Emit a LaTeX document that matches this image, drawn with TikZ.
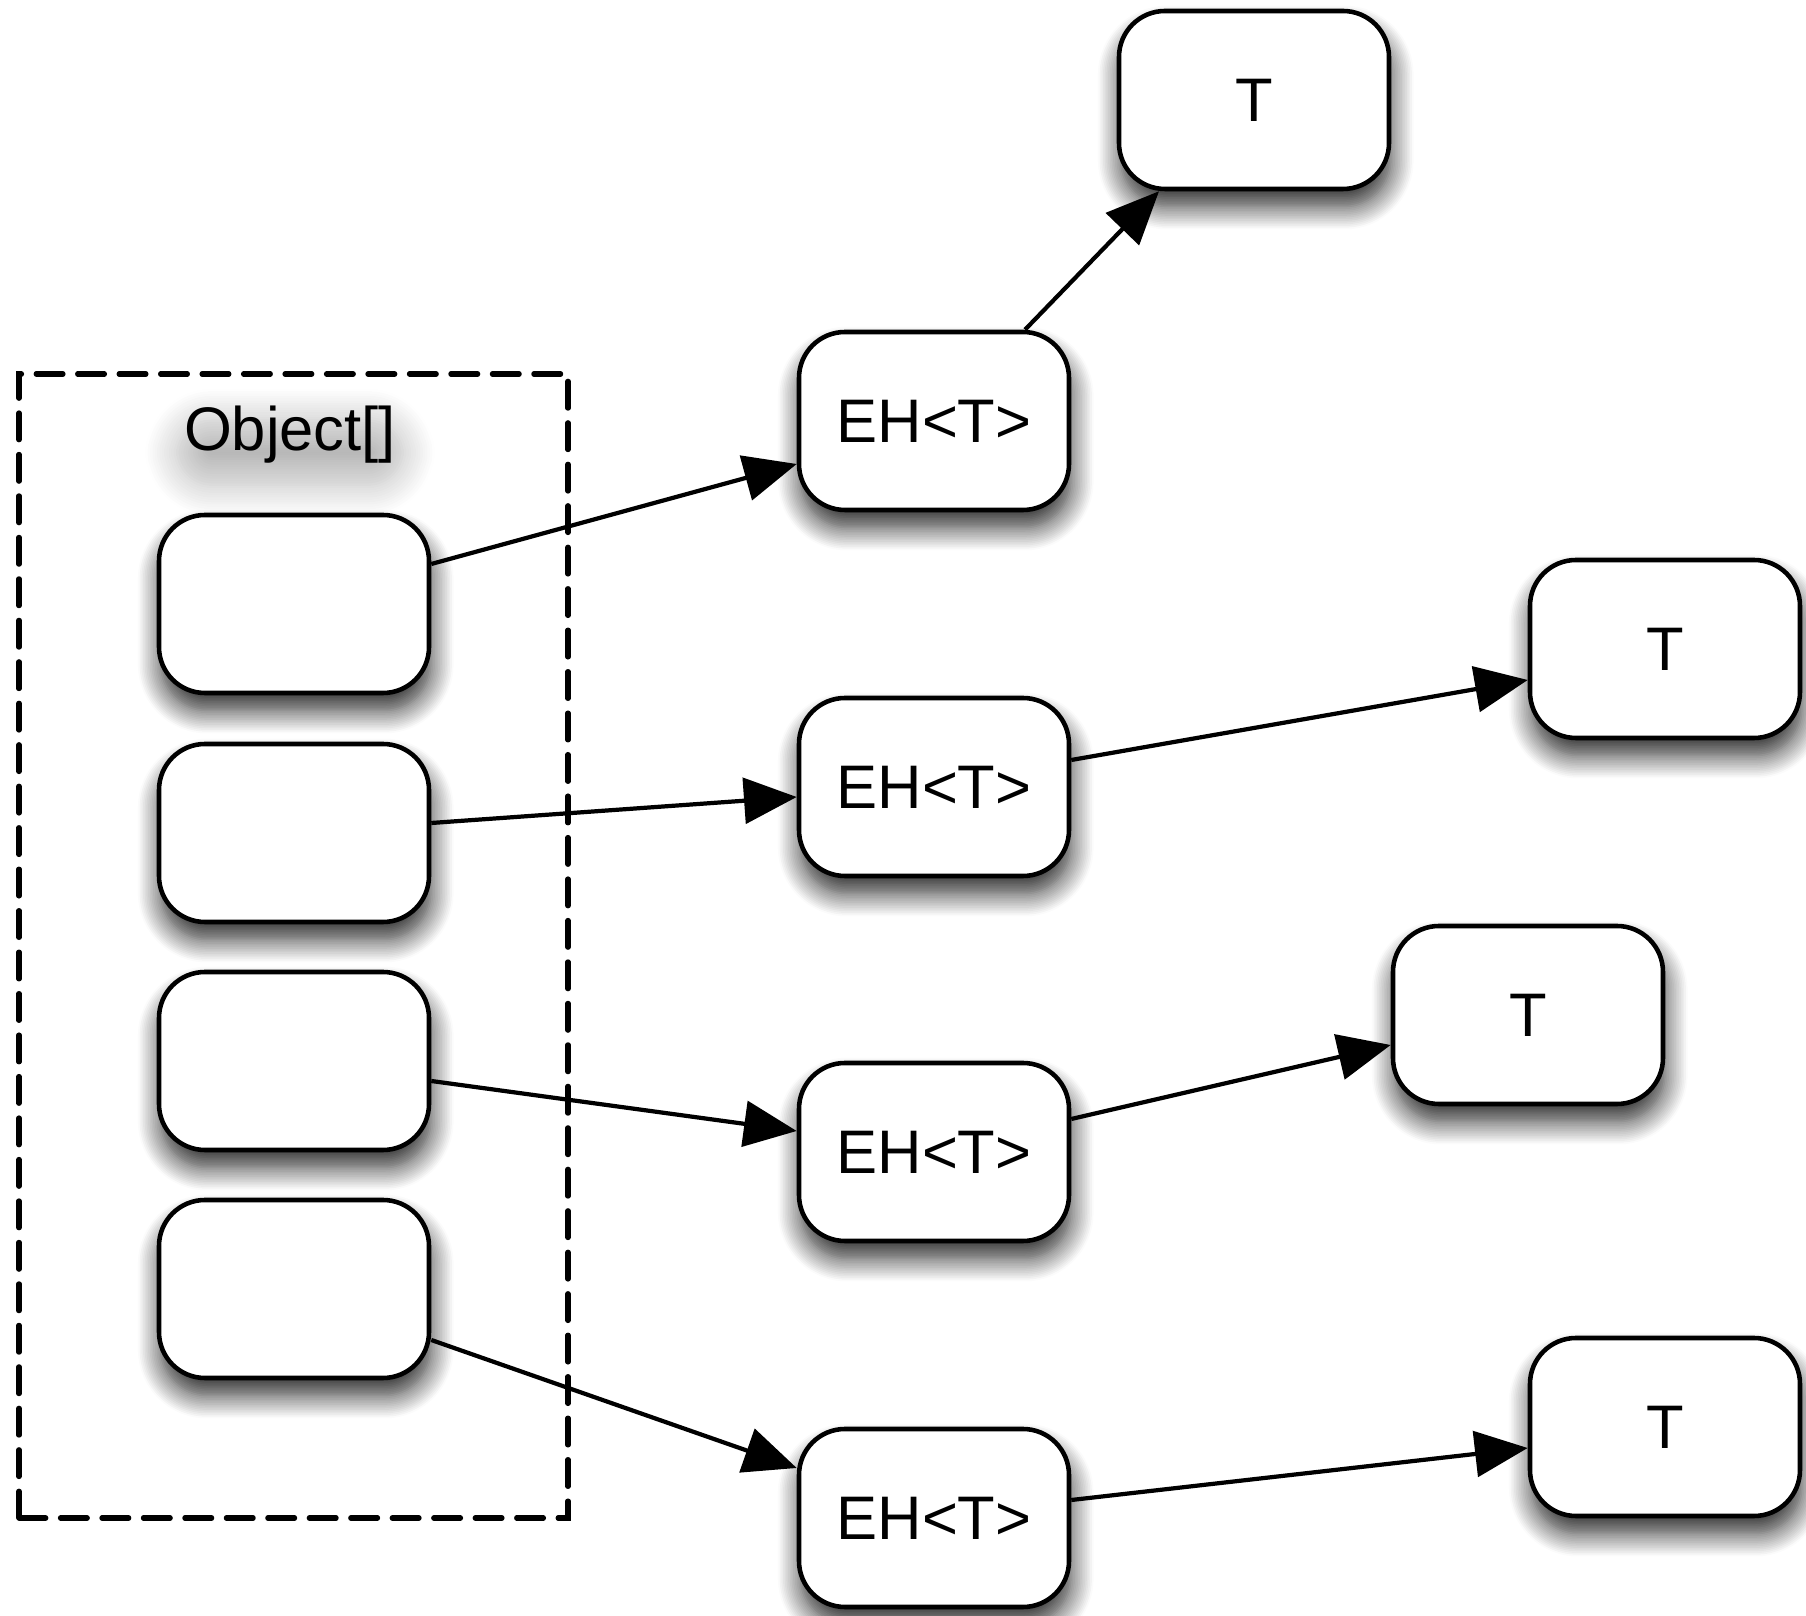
\documentclass[tikz,border=0pt]{standalone}
\usepackage{fontspec}
\setmainfont{Liberation Sans}
\usetikzlibrary{arrows.meta,shadows.blur}

\begin{document}
\begin{tikzpicture}[
  box/.style={draw, line width=1.3pt, fill=white, rounded corners=0.46cm,
    minimum width=2.7cm, minimum height=1.78cm, font=\fontsize{17.5}{20}\selectfont,
    blur shadow={shadow xshift=0.5pt, shadow yshift=-5pt, shadow blur radius=6.5pt,
      shadow blur steps=14, shadow opacity=85}},
  link/.style={-{Triangle[length=15pt,width=13pt]}, line width=1.2pt},
]
\useasboundingbox (0,0) rectangle (18.06,16.16);

% Array
\draw[line width=1.5pt, line cap=round, dash pattern=on 7.6pt off 4.2pt] (0.19,0.98) rectangle (5.68,12.42);
\node[font=\fontsize{17.5}{20}\selectfont, rounded corners=10pt, inner xsep=2pt, inner ysep=1pt,
  blur shadow={shadow xshift=0pt, shadow yshift=-5pt, shadow blur radius=9pt,
    shadow blur steps=14, shadow opacity=28}]
  (objlabel) at (2.9,11.81) {Object[]};

% Slots
\node[box] (slot1) at (2.94,10.12) {};
\node[box] (slot2) at (2.94,7.83) {};
\node[box] (slot3) at (2.94,5.55) {};
\node[box] (slot4) at (2.94,3.27) {};

% Handles
\node[box] (eh1) at (9.34,11.95) {EH<T>};
\node[box] (eh2) at (9.34,8.29) {EH<T>};
\node[box] (eh3) at (9.34,4.64) {EH<T>};
\node[box] (eh4) at (9.34,0.98) {EH<T>};

% Targets
\node[box] (t1) at (12.54,15.16) {T};
\node[box] (t2) at (16.65,9.67) {T};
\node[box] (t3) at (15.28,6.01) {T};
\node[box] (t4) at (16.65,1.89) {T};

% Slot -> handle
\draw[link] ([yshift=0.40cm]slot1.east) -- ([yshift=-0.43cm]eh1.west);
\draw[link] ([yshift=0.10cm]slot2.east) -- ([yshift=-0.10cm]eh2.west);
\draw[link] ([yshift=-0.20cm]slot3.east) -- ([yshift=0.21cm]eh3.west);
\draw[link] ([yshift=-0.51cm]slot4.east) -- ([yshift=0.50cm]eh4.west);

% Handle -> target
\draw[link] ([xshift=0.91cm]eh1.north) -- ([xshift=-0.95cm]t1.south);
\draw[link] ([yshift=0.27cm]eh2.east) -- ([yshift=-0.31cm]t2.west);
\draw[link] ([yshift=0.33cm]eh3.east) -- ([yshift=-0.30cm]t3.west);
\draw[link] ([yshift=0.18cm]eh4.east) -- ([yshift=-0.21cm]t4.west);
\end{tikzpicture}
\end{document}
